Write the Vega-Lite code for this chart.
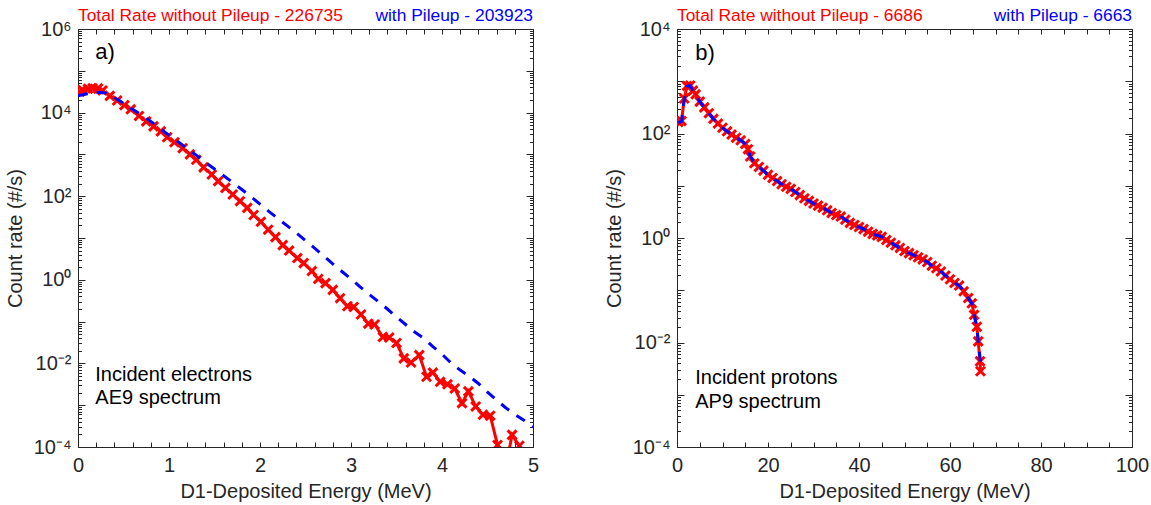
{
  "$schema": "https://vega.github.io/schema/vega-lite/v6.json",
  "background": "white",
  "padding": {"left": 4, "top": 6, "right": 5, "bottom": 2},
  "bounds": "flush",
  "spacing": 144,
  "datasets": {
    "redA": [
      {"E":0.02,"rate":31600},{"E":0.05,"rate":34700},{"E":0.11,"rate":37200},{"E":0.16,"rate":38000},{"E":0.22,"rate":38000},{"E":0.27,"rate":33900},{"E":0.35,"rate":25100},{"E":0.43,"rate":19500},{"E":0.51,"rate":15100},{"E":0.58,"rate":12000},{"E":0.67,"rate":8320},{"E":0.75,"rate":6170},{"E":0.83,"rate":4680},{"E":0.91,"rate":3550},{"E":0.98,"rate":2570},{"E":1.06,"rate":1950},{"E":1.15,"rate":1410},{"E":1.23,"rate":1000},{"E":1.30,"rate":741},{"E":1.38,"rate":490},{"E":1.47,"rate":331},{"E":1.54,"rate":229},{"E":1.62,"rate":158},{"E":1.70,"rate":110},{"E":1.78,"rate":75.9},{"E":1.86,"rate":52.5},{"E":1.93,"rate":35.5},{"E":2.01,"rate":24.5},{"E":2.09,"rate":15.8},{"E":2.17,"rate":10.5},{"E":2.25,"rate":6.76},{"E":2.32,"rate":5.01},{"E":2.41,"rate":3.31},{"E":2.48,"rate":2.51},{"E":2.57,"rate":1.62},{"E":2.64,"rate":1.05},{"E":2.72,"rate":0.832},{"E":2.80,"rate":0.575},{"E":2.88,"rate":0.363},{"E":2.96,"rate":0.234},{"E":3.03,"rate":0.224},{"E":3.11,"rate":0.148},{"E":3.19,"rate":0.0891},{"E":3.26,"rate":0.0851},{"E":3.35,"rate":0.0427},{"E":3.42,"rate":0.0417},{"E":3.50,"rate":0.0309},{"E":3.58,"rate":0.0132},{"E":3.66,"rate":0.0105},{"E":3.75,"rate":0.0158},{"E":3.83,"rate":0.00479},{"E":3.90,"rate":0.00603},{"E":3.98,"rate":0.00363},{"E":4.06,"rate":0.00316},{"E":4.14,"rate":0.00251},{"E":4.22,"rate":0.00112},{"E":4.29,"rate":0.00214},{"E":4.37,"rate":0.000933},{"E":4.45,"rate":0.000589},{"E":4.53,"rate":0.000562},{"E":4.61,"rate":0.000112},{"E":4.69,"rate":0.0000251},{"E":4.77,"rate":0.000195},{"E":4.85,"rate":0.000107}
    ],
    "blueA": [
      {"E":0.0,"rate":25100},{"E":0.1,"rate":28200},{"E":0.2,"rate":30900},{"E":0.3,"rate":29500},{"E":0.4,"rate":22900},{"E":0.5,"rate":16600},{"E":0.6,"rate":12000},{"E":0.7,"rate":8710},{"E":0.8,"rate":6170},{"E":0.9,"rate":4170},{"E":1.0,"rate":2880},{"E":1.1,"rate":2000},{"E":1.2,"rate":1380},{"E":1.3,"rate":955},{"E":1.4,"rate":646},{"E":1.5,"rate":447},{"E":1.6,"rate":309},{"E":1.7,"rate":214},{"E":1.8,"rate":145},{"E":1.9,"rate":97.7},{"E":2.0,"rate":64.6},{"E":2.1,"rate":42.7},{"E":2.2,"rate":28.8},{"E":2.3,"rate":19.5},{"E":2.4,"rate":13.2},{"E":2.5,"rate":8.71},{"E":2.6,"rate":5.75},{"E":2.7,"rate":3.72},{"E":2.8,"rate":2.40},{"E":2.9,"rate":1.58},{"E":3.0,"rate":1.05},{"E":3.1,"rate":0.676},{"E":3.2,"rate":0.447},{"E":3.3,"rate":0.302},{"E":3.4,"rate":0.200},{"E":3.5,"rate":0.129},{"E":3.6,"rate":0.0851},{"E":3.7,"rate":0.0562},{"E":3.8,"rate":0.0398},{"E":3.9,"rate":0.0251},{"E":4.0,"rate":0.0166},{"E":4.1,"rate":0.0102},{"E":4.2,"rate":0.00692},{"E":4.3,"rate":0.00490},{"E":4.4,"rate":0.00331},{"E":4.5,"rate":0.00204},{"E":4.6,"rate":0.00132},{"E":4.7,"rate":0.000871},{"E":4.8,"rate":0.000603},{"E":4.9,"rate":0.000437},{"E":5.0,"rate":0.000302}
    ],
    "redB": [
      {"E":0.3,"rate":166},{"E":1.0,"rate":174},{"E":1.6,"rate":468},{"E":2.2,"rate":813},{"E":2.9,"rate":832},{"E":3.5,"rate":661},{"E":4.1,"rate":562},{"E":5,"rate":407},{"E":6,"rate":316},{"E":7,"rate":245},{"E":8,"rate":191},{"E":9,"rate":155},{"E":10,"rate":129},{"E":11,"rate":110},{"E":12,"rate":95.5},{"E":13,"rate":83.2},{"E":14,"rate":74.1},{"E":15,"rate":63.1},{"E":15.6,"rate":50.1},{"E":16.1,"rate":36.3},{"E":17,"rate":26.9},{"E":18,"rate":22.9},{"E":19,"rate":19.5},{"E":20,"rate":16.2},{"E":21,"rate":14.1},{"E":22,"rate":12.3},{"E":23,"rate":10.7},{"E":24,"rate":9.55},{"E":25,"rate":8.71},{"E":26,"rate":7.59},{"E":27,"rate":6.61},{"E":28,"rate":5.75},{"E":29,"rate":5.13},{"E":30,"rate":4.57},{"E":31,"rate":4.17},{"E":32,"rate":3.80},{"E":33,"rate":3.39},{"E":34,"rate":3.02},{"E":35,"rate":2.75},{"E":36,"rate":2.57},{"E":37,"rate":2.24},{"E":38,"rate":1.95},{"E":39,"rate":1.78},{"E":40,"rate":1.62},{"E":41,"rate":1.48},{"E":42,"rate":1.32},{"E":43,"rate":1.20},{"E":44,"rate":1.12},{"E":45,"rate":1.05},{"E":46,"rate":0.912},{"E":47,"rate":0.813},{"E":48,"rate":0.724},{"E":49,"rate":0.646},{"E":50,"rate":0.562},{"E":51,"rate":0.513},{"E":52,"rate":0.468},{"E":53,"rate":0.427},{"E":54,"rate":0.389},{"E":55,"rate":0.347},{"E":56,"rate":0.295},{"E":57,"rate":0.263},{"E":58,"rate":0.229},{"E":59,"rate":0.191},{"E":60,"rate":0.162},{"E":61,"rate":0.138},{"E":62,"rate":0.123},{"E":63,"rate":0.0955},{"E":64,"rate":0.0708},{"E":64.8,"rate":0.0562},{"E":65.3,"rate":0.0339},{"E":65.9,"rate":0.0200},{"E":66.2,"rate":0.0105},{"E":66.6,"rate":0.00437},{"E":66.7,"rate":0.00282}
    ],
    "blueB": [
      {"E":0.3,"rate":160},{"E":1.0,"rate":170},{"E":1.6,"rate":460},{"E":2.2,"rate":800},{"E":2.9,"rate":825},{"E":3.5,"rate":655},{"E":4.1,"rate":558},{"E":5,"rate":405},{"E":6,"rate":315},{"E":7,"rate":244},{"E":8,"rate":190},{"E":9,"rate":154},{"E":10,"rate":128},{"E":11,"rate":110},{"E":12,"rate":95},{"E":13,"rate":83},{"E":14,"rate":74},{"E":15,"rate":63},{"E":15.6,"rate":50},{"E":16.1,"rate":36.3},{"E":17,"rate":26.9},{"E":18,"rate":22.9},{"E":19,"rate":19.5},{"E":20,"rate":16.2},{"E":21,"rate":14.1},{"E":22,"rate":12.3},{"E":23,"rate":10.7},{"E":24,"rate":9.55},{"E":25,"rate":8.71},{"E":26,"rate":7.59},{"E":27,"rate":6.61},{"E":28,"rate":5.75},{"E":29,"rate":5.13},{"E":30,"rate":4.57},{"E":31,"rate":4.17},{"E":32,"rate":3.80},{"E":33,"rate":3.39},{"E":34,"rate":3.02},{"E":35,"rate":2.75},{"E":36,"rate":2.57},{"E":37,"rate":2.24},{"E":38,"rate":1.95},{"E":39,"rate":1.78},{"E":40,"rate":1.62},{"E":41,"rate":1.48},{"E":42,"rate":1.32},{"E":43,"rate":1.20},{"E":44,"rate":1.12},{"E":45,"rate":1.05},{"E":46,"rate":0.912},{"E":47,"rate":0.813},{"E":48,"rate":0.724},{"E":49,"rate":0.646},{"E":50,"rate":0.562},{"E":51,"rate":0.513},{"E":52,"rate":0.468},{"E":53,"rate":0.427},{"E":54,"rate":0.389},{"E":55,"rate":0.347},{"E":56,"rate":0.295},{"E":57,"rate":0.263},{"E":58,"rate":0.229},{"E":59,"rate":0.191},{"E":60,"rate":0.162},{"E":61,"rate":0.138},{"E":62,"rate":0.123},{"E":63,"rate":0.0955},{"E":64,"rate":0.0708},{"E":64.8,"rate":0.0562},{"E":65.3,"rate":0.0339},{"E":65.9,"rate":0.0200},{"E":66.2,"rate":0.0105},{"E":66.7,"rate":0.0042}
    ]
  },
  "hconcat": [
    {
      "width": 455,
      "height": 418,
      "resolve": {"axis": {"x": "independent", "y": "independent"}},
      "layer": [
        {
          "data": {"name": "redA"},
          "mark": {"type": "line", "color": "#ff0000", "strokeWidth": 3, "clip": true},
          "encoding": {
            "x": {"field": "E", "type": "quantitative", "scale": {"domain": [0, 5], "nice": false, "zero": false},
              "axis": {"orient": "bottom", "values": [0,0.2,0.4,0.6,0.8,1,1.2,1.4,1.6,1.8,2,2.2,2.4,2.6,2.8,3,3.2,3.4,3.6,3.8,4,4.2,4.4,4.6,4.8,5], "labelExpr": "datum.value % 1 == 0 ? format(datum.value, 'd') : ''", "tickSize": -5, "labelPadding": 13, "title": "D1-Deposited Energy (MeV)", "titlePadding": 6}},
            "y": {"field": "rate", "type": "quantitative", "scale": {"type": "log", "domain": [0.0001, 1000000], "nice": false},
              "axis": {"orient": "left", "values": [0.0001,0.001,0.01,0.1,1,10,100,1000,10000,100000,1000000], "labelExpr": "round(log(datum.value)/LN10) % 2 == 0 ? '10' + (datum.value < 1 ? '⁻' : '') + substring('⁰¹²³⁴⁵⁶⁷⁸⁹', abs(round(log(datum.value)/LN10)), abs(round(log(datum.value)/LN10)) + 1) : ''", "tickSize": -7, "labelPadding": 14, "title": "Count rate (#/s)", "titlePadding": 8}}
          }
        },
        {
          "data": {"name": "redA"},
          "mark": {"type": "point", "shape": "M-1,-1L1,1M1,-1L-1,1", "filled": false, "stroke": "#ff0000", "strokeWidth": 3, "size": 80, "opacity": 1, "clip": true},
          "encoding": {
            "x": {"field": "E", "type": "quantitative", "scale": {"domain": [0, 5], "nice": false, "zero": false}, "axis": null},
            "y": {"field": "rate", "type": "quantitative", "scale": {"type": "log", "domain": [0.0001, 1000000], "nice": false},
              "axis": {"orient": "left", "values": [0.0002,0.0003,0.0004,0.0005,0.0006,0.0007,0.0008,0.0009,0.002,0.003,0.004,0.005,0.006,0.007,0.008,0.009,0.02,0.03,0.04,0.05,0.06,0.07,0.08,0.09,0.2,0.3,0.4,0.5,0.6,0.7,0.8,0.9,2,3,4,5,6,7,8,9,20,30,40,50,60,70,80,90,200,300,400,500,600,700,800,900,2000,3000,4000,5000,6000,7000,8000,9000,20000,30000,40000,50000,60000,70000,80000,90000,200000,300000,400000,500000,600000,700000,800000,900000], "tickSize": -3.5, "labels": false, "domain": false, "title": null}}
          }
        },
        {
          "data": {"name": "blueA"},
          "mark": {"type": "line", "color": "#0000ff", "strokeWidth": 3, "strokeDash": [10, 9], "clip": true},
          "encoding": {
            "x": {"field": "E", "type": "quantitative", "scale": {"domain": [0, 5], "nice": false, "zero": false},
              "axis": {"orient": "top", "values": [0,0.2,0.4,0.6,0.8,1,1.2,1.4,1.6,1.8,2,2.2,2.4,2.6,2.8,3,3.2,3.4,3.6,3.8,4,4.2,4.4,4.6,4.8,5], "tickSize": -5, "labels": false, "title": null}},
            "y": {"field": "rate", "type": "quantitative", "scale": {"type": "log", "domain": [0.0001, 1000000], "nice": false},
              "axis": {"orient": "right", "values": [0.0001,0.001,0.01,0.1,1,10,100,1000,10000,100000,1000000], "tickSize": -7, "labels": false, "title": null}}
          }
        },
        {
          "data": {"values": [{"label": "a)"}]},
          "mark": {"type": "text", "align": "left", "baseline": "middle", "fontSize": 22, "font": "Liberation Sans", "color": "#000000"},
          "encoding": {
            "text": {"field": "label"},
            "x": {"datum": 0.19, "type": "quantitative", "scale": {"domain": [0, 5], "nice": false, "zero": false}, "axis": null},
            "y": {"datum": 280000, "type": "quantitative", "scale": {"type": "log", "domain": [0.0001, 1000000], "nice": false},
              "axis": {"orient": "right", "values": [0.0002,0.0003,0.0004,0.0005,0.0006,0.0007,0.0008,0.0009,0.002,0.003,0.004,0.005,0.006,0.007,0.008,0.009,0.02,0.03,0.04,0.05,0.06,0.07,0.08,0.09,0.2,0.3,0.4,0.5,0.6,0.7,0.8,0.9,2,3,4,5,6,7,8,9,20,30,40,50,60,70,80,90,200,300,400,500,600,700,800,900,2000,3000,4000,5000,6000,7000,8000,9000,20000,30000,40000,50000,60000,70000,80000,90000,200000,300000,400000,500000,600000,700000,800000,900000], "tickSize": -3.5, "labels": false, "domain": false, "title": null}}
          }
        },
        {
          "data": {"values": [{"label": "Incident electrons"}]},
          "mark": {"type": "text", "align": "left", "baseline": "middle", "fontSize": 20, "font": "Liberation Sans", "color": "#000000"},
          "encoding": {"text": {"field": "label"}, "x": {"datum": 0.19, "type": "quantitative", "axis": null}, "y": {"datum": 0.0054, "type": "quantitative", "axis": null}}
        },
        {
          "data": {"values": [{"label": "AE9 spectrum"}]},
          "mark": {"type": "text", "align": "left", "baseline": "middle", "fontSize": 20, "font": "Liberation Sans", "color": "#000000"},
          "encoding": {"text": {"field": "label"}, "x": {"datum": 0.19, "type": "quantitative", "axis": null}, "y": {"datum": 0.00145, "type": "quantitative", "axis": null}}
        },
        {
          "data": {"values": [{"label": "Total Rate without Pileup - 226735"}]},
          "mark": {"type": "text", "align": "left", "baseline": "middle", "fontSize": 17.4, "font": "Liberation Sans", "color": "#ff0000"},
          "encoding": {"text": {"field": "label"}, "x": {"datum": 0, "type": "quantitative", "axis": null}, "y": {"datum": 2050000, "type": "quantitative", "axis": null}}
        },
        {
          "data": {"values": [{"label": "with Pileup - 203923"}]},
          "mark": {"type": "text", "align": "right", "baseline": "middle", "fontSize": 17.4, "font": "Liberation Sans", "color": "#0000ff"},
          "encoding": {"text": {"field": "label"}, "x": {"datum": 5, "type": "quantitative", "axis": null}, "y": {"datum": 2050000, "type": "quantitative", "axis": null}}
        }
      ]
    },
    {
      "width": 455,
      "height": 418,
      "resolve": {"axis": {"x": "independent", "y": "independent"}},
      "layer": [
        {
          "data": {"name": "redB"},
          "mark": {"type": "line", "color": "#ff0000", "strokeWidth": 3, "clip": true},
          "encoding": {
            "x": {"field": "E", "type": "quantitative", "scale": {"domain": [0, 100], "nice": false, "zero": false},
              "axis": {"orient": "bottom", "values": [0,5,10,15,20,25,30,35,40,45,50,55,60,65,70,75,80,85,90,95,100], "labelExpr": "datum.value % 20 == 0 ? format(datum.value, 'd') : ''", "tickSize": -5, "labelPadding": 13, "title": "D1-Deposited Energy (MeV)", "titlePadding": 6}},
            "y": {"field": "rate", "type": "quantitative", "scale": {"type": "log", "domain": [0.0001, 10000], "nice": false},
              "axis": {"orient": "left", "values": [0.0001,0.001,0.01,0.1,1,10,100,1000,10000], "labelExpr": "round(log(datum.value)/LN10) % 2 == 0 ? '10' + (datum.value < 1 ? '⁻' : '') + substring('⁰¹²³⁴⁵⁶⁷⁸⁹', abs(round(log(datum.value)/LN10)), abs(round(log(datum.value)/LN10)) + 1) : ''", "tickSize": -7, "labelPadding": 14, "title": "Count rate (#/s)", "titlePadding": 8}}
          }
        },
        {
          "data": {"name": "redB"},
          "mark": {"type": "point", "shape": "M-1,-1L1,1M1,-1L-1,1", "filled": false, "stroke": "#ff0000", "strokeWidth": 3, "size": 80, "opacity": 1, "clip": true},
          "encoding": {
            "x": {"field": "E", "type": "quantitative", "scale": {"domain": [0, 100], "nice": false, "zero": false}, "axis": null},
            "y": {"field": "rate", "type": "quantitative", "scale": {"type": "log", "domain": [0.0001, 10000], "nice": false},
              "axis": {"orient": "left", "values": [0.0002,0.0003,0.0004,0.0005,0.0006,0.0007,0.0008,0.0009,0.002,0.003,0.004,0.005,0.006,0.007,0.008,0.009,0.02,0.03,0.04,0.05,0.06,0.07,0.08,0.09,0.2,0.3,0.4,0.5,0.6,0.7,0.8,0.9,2,3,4,5,6,7,8,9,20,30,40,50,60,70,80,90,200,300,400,500,600,700,800,900,2000,3000,4000,5000,6000,7000,8000,9000], "tickSize": -3.5, "labels": false, "domain": false, "title": null}}
          }
        },
        {
          "data": {"name": "blueB"},
          "mark": {"type": "line", "color": "#0000ff", "strokeWidth": 3, "strokeDash": [10, 9], "clip": true},
          "encoding": {
            "x": {"field": "E", "type": "quantitative", "scale": {"domain": [0, 100], "nice": false, "zero": false},
              "axis": {"orient": "top", "values": [0,5,10,15,20,25,30,35,40,45,50,55,60,65,70,75,80,85,90,95,100], "tickSize": -5, "labels": false, "title": null}},
            "y": {"field": "rate", "type": "quantitative", "scale": {"type": "log", "domain": [0.0001, 10000], "nice": false},
              "axis": {"orient": "right", "values": [0.0001,0.001,0.01,0.1,1,10,100,1000,10000], "tickSize": -7, "labels": false, "title": null}}
          }
        },
        {
          "data": {"values": [{"label": "b)"}]},
          "mark": {"type": "text", "align": "left", "baseline": "middle", "fontSize": 22, "font": "Liberation Sans", "color": "#000000"},
          "encoding": {
            "text": {"field": "label"},
            "x": {"datum": 4.0, "type": "quantitative", "scale": {"domain": [0, 100], "nice": false, "zero": false}, "axis": null},
            "y": {"datum": 3470, "type": "quantitative", "scale": {"type": "log", "domain": [0.0001, 10000], "nice": false},
              "axis": {"orient": "right", "values": [0.0002,0.0003,0.0004,0.0005,0.0006,0.0007,0.0008,0.0009,0.002,0.003,0.004,0.005,0.006,0.007,0.008,0.009,0.02,0.03,0.04,0.05,0.06,0.07,0.08,0.09,0.2,0.3,0.4,0.5,0.6,0.7,0.8,0.9,2,3,4,5,6,7,8,9,20,30,40,50,60,70,80,90,200,300,400,500,600,700,800,900,2000,3000,4000,5000,6000,7000,8000,9000], "tickSize": -3.5, "labels": false, "domain": false, "title": null}}
          }
        },
        {
          "data": {"values": [{"label": "Incident protons"}]},
          "mark": {"type": "text", "align": "left", "baseline": "middle", "fontSize": 20, "font": "Liberation Sans", "color": "#000000"},
          "encoding": {"text": {"field": "label"}, "x": {"datum": 4.0, "type": "quantitative", "axis": null}, "y": {"datum": 0.00208, "type": "quantitative", "axis": null}}
        },
        {
          "data": {"values": [{"label": "AP9 spectrum"}]},
          "mark": {"type": "text", "align": "left", "baseline": "middle", "fontSize": 20, "font": "Liberation Sans", "color": "#000000"},
          "encoding": {"text": {"field": "label"}, "x": {"datum": 4.0, "type": "quantitative", "axis": null}, "y": {"datum": 0.00072, "type": "quantitative", "axis": null}}
        },
        {
          "data": {"values": [{"label": "Total Rate without Pileup - 6686"}]},
          "mark": {"type": "text", "align": "left", "baseline": "middle", "fontSize": 17.4, "font": "Liberation Sans", "color": "#ff0000"},
          "encoding": {"text": {"field": "label"}, "x": {"datum": 0, "type": "quantitative", "axis": null}, "y": {"datum": 17700, "type": "quantitative", "axis": null}}
        },
        {
          "data": {"values": [{"label": "with Pileup - 6663"}]},
          "mark": {"type": "text", "align": "right", "baseline": "middle", "fontSize": 17.4, "font": "Liberation Sans", "color": "#0000ff"},
          "encoding": {"text": {"field": "label"}, "x": {"datum": 100, "type": "quantitative", "axis": null}, "y": {"datum": 17700, "type": "quantitative", "axis": null}}
        }
      ]
    }
  ],
  "config": {
    "font": "Liberation Sans",
    "view": {"stroke": "#262626", "strokeWidth": 1},
    "axis": {
      "labelFont": "Liberation Sans", "titleFont": "Liberation Sans",
      "labelFontSize": 20, "titleFontSize": 20, "titleFontWeight": "normal",
      "labelColor": "#262626", "titleColor": "#262626", "tickColor": "#262626", "domainColor": "#262626",
      "grid": false, "labelFlush": false, "labelOverlap": false, "tickWidth": 1, "domainWidth": 1
    }
  }
}
